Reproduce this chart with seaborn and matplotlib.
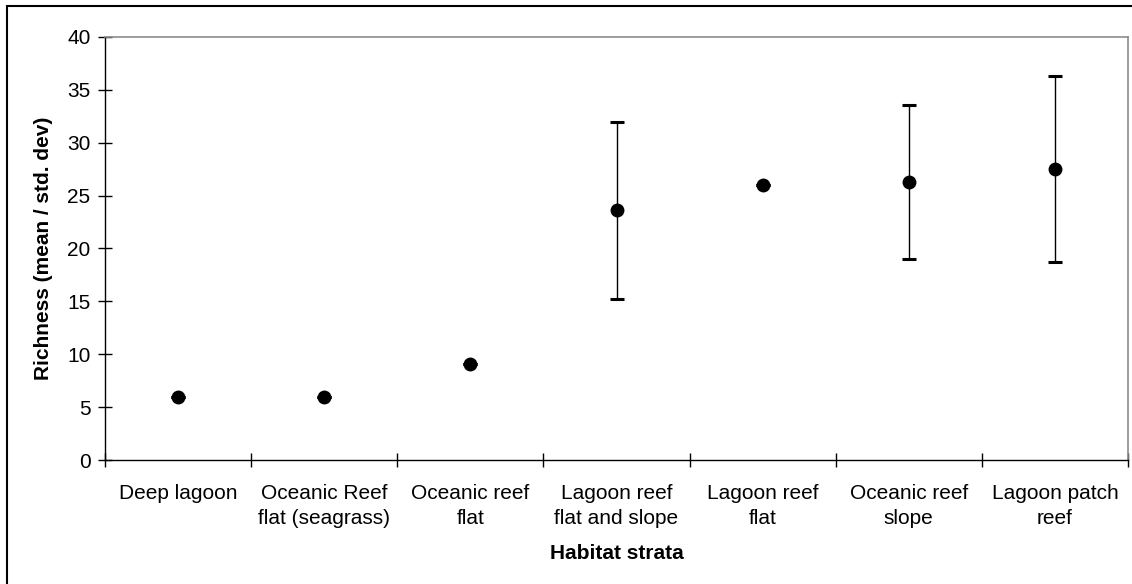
import matplotlib
matplotlib.use("Agg")
import matplotlib.pyplot as plt
import seaborn as sns
from matplotlib.patches import Rectangle
from matplotlib.ticker import FixedLocator, NullFormatter

# Species richness per habitat stratum (mean and standard deviation)
categories = [
    "Deep lagoon",
    "Oceanic Reef\nflat (seagrass)",
    "Oceanic reef\nflat",
    "Lagoon reef\nflat and slope",
    "Lagoon reef\nflat",
    "Oceanic reef\nslope",
    "Lagoon patch\nreef",
]
means = [6.0, 6.0, 9.1, 23.6, 26.0, 26.3, 27.5]
std_devs = [0.0, 0.0, 0.0, 8.4, 0.0, 7.3, 8.8]
y_ticks = [0, 5, 10, 15, 20, 25, 30, 35, 40]

sns.set_style("ticks")
plt.rcParams["font.family"] = ["Liberation Sans", "DejaVu Sans"]
plt.rcParams["text.color"] = "black"
plt.rcParams["axes.labelcolor"] = "black"

W, H = 1132, 584
fig = plt.figure(figsize=(W / 100, H / 100), dpi=100)
fig.patch.set_facecolor("white")
ax = fig.add_axes([105 / W, 1 - 460 / H, (1128 - 105) / W, (460 - 37) / H])

positions = list(range(len(categories)))
ax.errorbar(positions, means, yerr=std_devs, fmt="none", ecolor="black",
            elinewidth=1.0, capsize=5, capthick=2.2, zorder=2)
sns.scatterplot(x=positions, y=means, s=100, color="black", edgecolor="black",
                linewidth=0, ax=ax, zorder=3, legend=False)

ax.set_xlim(-0.5, len(categories) - 0.5)
ax.set_ylim(0, 40)
ax.set_yticks(y_ticks)
ax.set_xticks(positions)
ax.set_xticklabels(categories)
for lbl in ax.get_xticklabels():
    lbl.set_linespacing(1.4)
ax.xaxis.set_minor_locator(FixedLocator([p - 0.5 for p in positions] + [positions[-1] + 0.5]))
ax.xaxis.set_minor_formatter(NullFormatter())

ax.tick_params(axis="x", which="major", length=0, pad=17, labelsize=15, labelcolor="black")
ax.tick_params(axis="x", which="minor", direction="inout", length=10, width=1, color="black")
ax.tick_params(axis="y", which="major", direction="inout", length=10, width=1,
               labelsize=15, pad=5.5, colors="black")

for side in ("left", "bottom"):
    ax.spines[side].set_color("black")
    ax.spines[side].set_linewidth(1.0)
for side in ("top", "right"):
    ax.spines[side].set_visible(True)
    ax.spines[side].set_color("#8c8c8c")
    ax.spines[side].set_linewidth(1.2)

ax.set_xlabel("Habitat strata", fontsize=15, fontweight="bold", labelpad=12, color="black")
ax.set_ylabel("Richness (mean / std. dev)", fontsize=15, fontweight="bold", labelpad=10,
              color="black")

# Outer chart frame
fig.patches.append(Rectangle((7 / W, -0.1), 1.2, 1 - 6 / H + 0.1,
                             transform=fig.transFigure, fill=False,
                             edgecolor="black", linewidth=1.5))

fig.savefig("out.png", dpi=100, facecolor="white")
